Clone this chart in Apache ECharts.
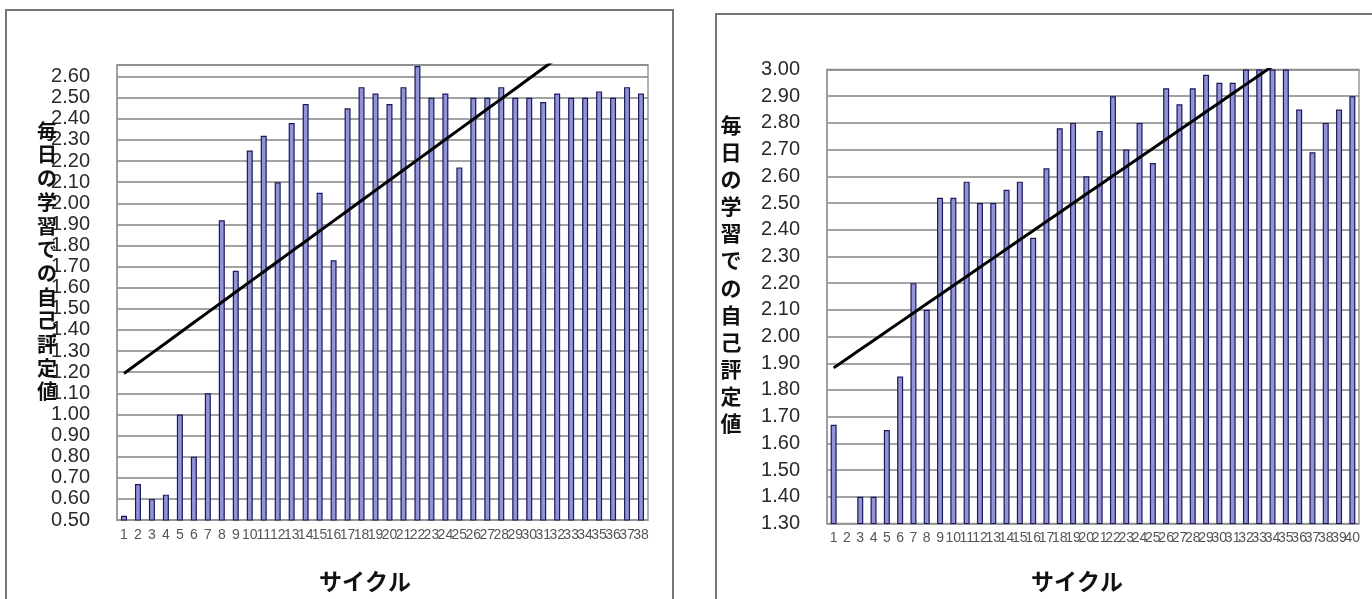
<!DOCTYPE html>
<html><head><meta charset="utf-8">
<script src="https://cdn.jsdelivr.net/npm/echarts@6/dist/echarts.min.js"></script>
<style>html,body{margin:0;padding:0;background:#fff}#c{width:1372px;height:599px}</style>
</head><body><div id="c"></div>
<script>
// ---- data ----
const leftCategories = ['1','2','3','4','5','6','7','8','9','10','11','12','13','14','15','16','17','18','19','20','21','22','23','24','25','26','27','28','29','30','31','32','33','34','35','36','37','38'];
const leftValues = [0.52,0.67,0.60,0.62,1.00,0.80,1.10,1.92,1.68,2.25,2.32,2.10,2.38,2.47,2.05,1.73,2.45,2.55,2.52,2.47,2.55,2.65,2.50,2.52,2.17,2.50,2.50,2.55,2.50,2.50,2.48,2.52,2.50,2.50,2.53,2.50,2.55,2.52];
const rightCategories = ['1','2','3','4','5','6','7','8','9','10','11','12','13','14','15','16','17','18','19','20','21','22','23','24','25','26','27','28','29','30','31','32','33','34','35','36','37','38','39','40'];
const rightValues = [1.67,1.30,1.40,1.40,1.65,1.85,2.20,2.10,2.52,2.52,2.58,2.50,2.50,2.55,2.58,2.37,2.63,2.78,2.80,2.60,2.77,2.90,2.70,2.80,2.65,2.93,2.87,2.93,2.98,2.95,2.95,3.00,3.00,3.00,3.00,2.85,2.69,2.80,2.85,2.90];
const leftYRange = [0.5, 2.655];
const rightYRange = [1.3, 3.0];
const yStep = 0.1;
const yTitle = '毎日の学習での自己評定値';
const xTitle = 'サイクル';

// Excel-style linear trendline (least squares fit of the bar values)
function trend(vals) {
  const n = vals.length;
  let sx = 0, sy = 0, sxy = 0, sxx = 0;
  vals.forEach((v, i) => { const x = i + 1; sx += x; sy += v; sxy += x * v; sxx += x * x; });
  const b = (n * sxy - sx * sy) / (n * sxx - sx * sx);
  const a = (sy - b * sx) / n;
  return vals.map((v, i) => +(a + b * (i + 1)).toFixed(4));
}

const chart = echarts.init(document.getElementById('c'), null, {renderer: 'canvas'});
const FONT = '"Liberation Sans", Arial, sans-serif';
const CJK = '"Noto Sans CJK JP", sans-serif';

function xAxis(idx, cats) {
  return {
    type: 'category', gridIndex: idx, data: cats, boundaryGap: true,
    axisLine: {show: true, lineStyle: {color: '#999', width: 1.5}},
    axisTick: {show: false},
    axisLabel: {interval: 0, fontSize: 14, color: '#555', margin: 8, fontFamily: FONT, hideOverlap: false},
    splitLine: {show: false}
  };
}
function yAxis(idx, range) {
  const onStep = Math.abs(range[1] / yStep - Math.round(range[1] / yStep)) < 1e-6;
  return {
    type: 'value', gridIndex: idx, min: range[0], max: range[1], interval: yStep,
    axisLine: {show: true, lineStyle: {color: '#999', width: 1.5}},
    axisTick: {show: false},
    axisLabel: {fontSize: 20, color: '#2a2a2a', margin: 27, fontFamily: FONT, showMaxLabel: onStep,
      formatter: v => v.toFixed(2)},
    splitLine: {show: true, lineStyle: {color: '#858585', width: 1.5}}
  };
}
function barSeries(idx, vals) {
  return {
    type: 'bar', xAxisIndex: idx, yAxisIndex: idx, data: vals, barWidth: 6,
    itemStyle: {color: '#9292d6', borderColor: '#1a1a58', borderWidth: 1.2},
    silent: true, z: 2
  };
}
function lineSeries(idx, vals) {
  return {
    type: 'line', xAxisIndex: idx, yAxisIndex: idx, data: trend(vals),
    symbol: 'none', clip: true, lineStyle: {color: '#000', width: 3}, silent: true, z: 5
  };
}

chart.setOption({
  animation: false,
  backgroundColor: '#fff',
  grid: [
    {left: 117, right: 1372 - 648, top: 65, bottom: 599 - 520, show: true, backgroundColor: '#fff', borderColor: '#999', borderWidth: 1.5, containLabel: false, outerBoundsMode: 'none'},
    {left: 827, right: 1372 - 1359, top: 69.5, bottom: 599 - 523.5, show: true, backgroundColor: '#fff', borderColor: '#999', borderWidth: 1.5, containLabel: false, outerBoundsMode: 'none'}
  ],
  xAxis: [xAxis(0, leftCategories), xAxis(1, rightCategories)],
  yAxis: [yAxis(0, leftYRange), yAxis(1, rightYRange)],
  series: [barSeries(0, leftValues), lineSeries(0, leftValues), barSeries(1, rightValues), lineSeries(1, rightValues)],
  graphic: [
    {type: 'rect', shape: {x: 6, y: 10, width: 667, height: 620}, style: {fill: 'none', stroke: '#777', lineWidth: 2}, z: -10, silent: true},
    {type: 'rect', shape: {x: 716, y: 14, width: 680, height: 620}, style: {fill: 'none', stroke: '#777', lineWidth: 2}, z: -10, silent: true},
    {type: 'text', x: 47, y: 261.5, style: {text: yTitle.split('').join('\n'), font: 'bold 20px ' + CJK, lineHeight: 23.7, fill: '#111', align: 'center', verticalAlign: 'middle'}, z: 10, silent: true},
    {type: 'text', x: 731, y: 274, style: {text: yTitle.split('').join('\n'), font: 'bold 21px ' + CJK, lineHeight: 27.1, fill: '#111', align: 'center', verticalAlign: 'middle'}, z: 10, silent: true},
    {type: 'text', x: 365, y: 581, style: {text: xTitle, font: 'bold 23px ' + CJK, fill: '#111', align: 'center', verticalAlign: 'middle'}, z: 10, silent: true},
    {type: 'text', x: 1077, y: 581, style: {text: xTitle, font: 'bold 23px ' + CJK, fill: '#111', align: 'center', verticalAlign: 'middle'}, z: 10, silent: true}
  ]
});
</script>
</body></html>
